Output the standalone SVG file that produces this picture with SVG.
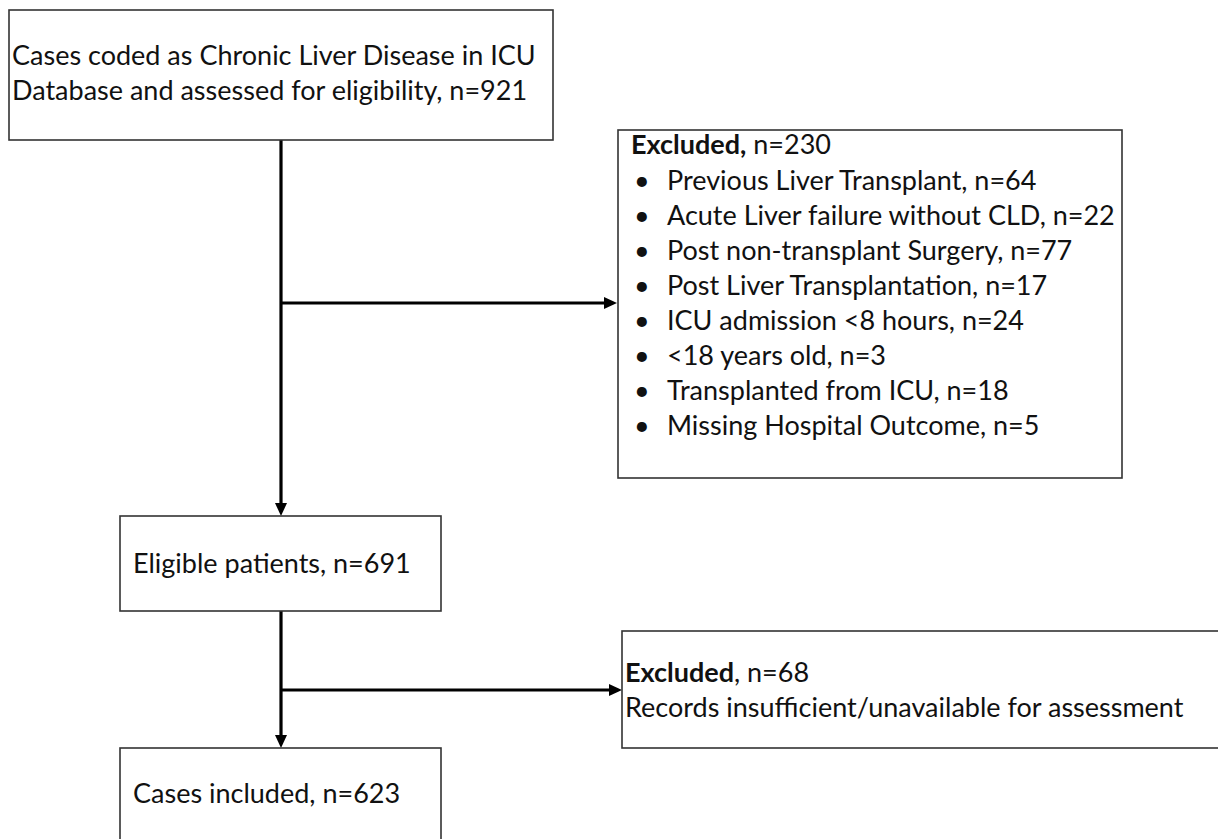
<svg xmlns="http://www.w3.org/2000/svg" width="1218" height="839" viewBox="0 0 1218 839">
<style>
.box{fill:#fff;stroke:#333;stroke-width:1.6}
.t{font-family:Lato,"Open Sans","Liberation Sans",sans-serif;font-size:27px;fill:#111}
.b{font-weight:bold}
.c{fill:none;stroke:#000;stroke-width:3.2}
</style>
<defs>
<marker id="ah" markerUnits="userSpaceOnUse" markerWidth="14" markerHeight="12" refX="0" refY="6" orient="auto">
<path d="M0,0 L13,6 L0,12 z" fill="#000"/>
</marker>
</defs>
<rect width="1218" height="839" fill="#fff"/>
<g id="connectors">
<path class="c" d="M281,140 V503" marker-end="url(#ah)"/>
<path class="c" d="M281,303 H604" marker-end="url(#ah)"/>
<path class="c" d="M281,611 V735" marker-end="url(#ah)"/>
<path class="c" d="M281,690 H609" marker-end="url(#ah)"/>
</g>
<g id="n1">
<rect class="box" x="9" y="10" width="544" height="130"/>
<text class="t" x="12" y="65">Cases coded as Chronic Liver Disease in ICU</text>
<text class="t" x="12" y="100">Database and assessed for eligibility, n=921</text>
</g>
<g id="n2">
<rect class="box" x="618" y="130" width="504" height="348"/>
<text class="t" x="631" y="154"><tspan class="b">Excluded,</tspan> n=230</text>
<g class="t">
<text x="634" y="190">•</text><text x="667" y="190">Previous Liver Transplant, n=64</text>
<text x="634" y="225">•</text><text x="667" y="225">Acute Liver failure without CLD, n=22</text>
<text x="634" y="260">•</text><text x="667" y="260">Post non-transplant Surgery, n=77</text>
<text x="634" y="295">•</text><text x="667" y="295">Post Liver Transplantation, n=17</text>
<text x="634" y="330">•</text><text x="667" y="330">ICU admission &lt;8 hours, n=24</text>
<text x="634" y="365">•</text><text x="667" y="365">&lt;18 years old, n=3</text>
<text x="634" y="400">•</text><text x="667" y="400">Transplanted from ICU, n=18</text>
<text x="634" y="435">•</text><text x="667" y="435">Missing Hospital Outcome, n=5</text>
</g>
</g>
<g id="n3">
<rect class="box" x="120" y="516" width="321" height="95"/>
<text class="t" x="133" y="573">Eligible patients, n=691</text>
</g>
<g id="n4">
<rect class="box" x="622" y="631" width="600" height="117"/>
<text class="t" x="625" y="682"><tspan class="b">Excluded</tspan>, n=68</text>
<text class="t" x="625" y="717">Records insufficient/unavailable for assessment</text>
</g>
<g id="n5">
<rect class="box" x="120" y="748" width="321" height="100"/>
<text class="t" x="133" y="803">Cases included, n=623</text>
</g>
</svg>
